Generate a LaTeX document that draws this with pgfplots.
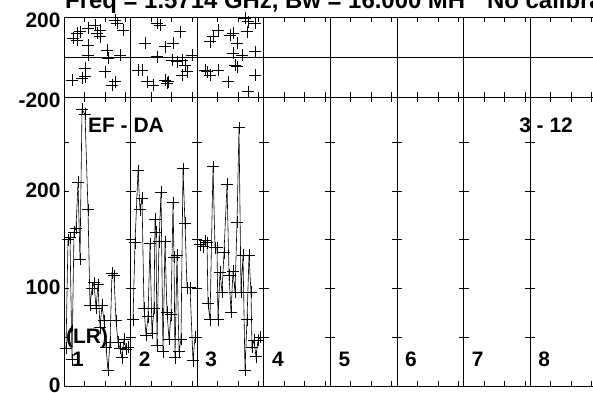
\documentclass[border=0pt]{standalone}
\usepackage{fontspec}
\setmainfont{Liberation Sans}
\usepackage{pgfplots}
\pgfplotsset{compat=1.18}
\newcommand{\lbl}{\fontsize{21}{21}\selectfont\bfseries}
\begin{document}
\begin{tikzpicture}[x=1bp,y=1bp]
\useasboundingbox (0,0) rectangle (593,392);
\pgfplotsset{
  panelbase/.style={
    scale only axis, width=533bp,
    xmin=64, xmax=597,
    axis line style={black, line width=0.9bp},
    tick style={black, line width=0.9bp},
    major tick length=5bp,
    tick align=inside,
    xtick={84.5,105,125.5,151.1,171.6,192.1,217.7,238.2,258.7,284.3,304.8,325.3,350.9,371.4,391.9,417.5,438,458.5,484.1,504.6,525.1,550.7,571.2,591.7},
    xticklabels={},
    xtick pos=both,
    extra x ticks={130.6,197.2,263.8,330.4,397,463.6,530.2},
    extra x tick labels={},
    extra x tick style={grid=major, major grid style={black, line width=1bp}},
    ytick pos=left,
    yticklabel style={font=\lbl},
    clip=false,
  },
  amp/.style={black, line width=0.6bp, mark=+, mark size=6bp, mark options={solid, line width=0.9bp, black}},
  pha/.style={only marks, mark=+, mark size=6bp, mark options={solid, line width=0.9bp, black}},
}
% ---------------- amplitude panel ----------------
\begin{axis}[panelbase,
  at={(64bp,6bp)}, anchor=south west, height=289bp,
  ymin=0, ymax=296.7,
  ytick={0,50,100,150,200,250},
  yticklabels={0,,100,,200,},
  yticklabel style={yshift=1bp},
]
\addplot[amp] coordinates {
(66,39)(68,150)(70,152)(72,27)(74,158)(76,162)(78,209)(80,130)(82,284)(85,279)(88,181)(90,83)(92,100)(94,106)(96,80)(98,104)(100,60)(102,83)(104,67)(106,40)(108,16)(110,45)(112,116)(114,113)(116,67)(118,45)(120,39)(122,29)(124,48)(126,38)(128,40)
};
\addplot[amp] coordinates {
(133,68)(135,147)(138,221)(140,181)(142,193)(144,80)(146,52)(148,71)(150,146)(152,54)(154,80)(155,171)(156,158)(157,42)(159,148)(161,199)(163,35)(165,148)(167,76)(169,48)(171,73)(173,188)(174,132)(175,29)(177,134)(179,35)(181,48)(183,223)(185,167)(187,101)(190,101)(193,26)(195,50)
};
\addplot[amp] coordinates {
(200,145)(203,143)(205,149)(207,147)(208,85)(210,68)(213,225)(215,142)(217,142)(218,68)(220,117)(222,96)(224,137)(227,207)(229,114)(231,76)(233,118)(235,96)(237,168)(239,265)(241,96)(243,134)(245,16)(247,68)(249,134)(251,96)(252,40)(254,47)(256,30)(258,47)(260,50)
};
\end{axis}
% ---------------- phase panel ----------------
\begin{axis}[panelbase,
  at={(64bp,295bp)}, anchor=south west, height=80bp,
  ymin=-200, ymax=200,
  ytick={-200,200},
  yticklabels={-200,200},
  yticklabel style={yshift=-3bp},
  extra y ticks={0}, extra y tick labels={},
  extra y tick style={grid=major, major grid style={black, line width=0.9bp}},
]
\addplot[pha] coordinates {
(73,93)(77,118)(80,127)(88,143)(95,160)(97,118)(100,135)(117,168)(123,135)(115,185)(77,85)(88,60)(107,35)(108,-7)(120,10)(88,10)(85,-57)(82,-107)(72,-115)(105,-73)(115,-123)(112,-140)(85,-98)(100,102)
};
\addplot[pha] coordinates {
(160,160)(157,168)(180,127)(145,68)(165,52)(173,68)(157,2)(192,10)(182,-15)(185,-40)(177,-23)(138,-65)(142,-65)(153,-140)(147,-123)(168,-123)(165,-115)(182,-90)(187,-73)(172,-15)(167,-132)
};
\addplot[pha] coordinates {
(218,135)(213,102)(210,77)(230,110)(233,118)(247,127)(248,177)(255,168)(245,193)(237,68)(255,27)(242,10)(233,18)(205,-65)(218,-65)(210,-90)(228,-123)(237,-48)(235,-40)(255,-90)(248,-173)(207,-73)
};
\end{axis}
% ticks crossing the panel separators (amplitude panel)
\foreach \X in {130.6,197.2,263.8,330.4,397,463.6,530.2}{
  \foreach \V in {50,100,150,200,250}{
    \draw[black, line width=0.9bp] (\X-5, 6+0.974*\V) -- (\X+5, 6+0.974*\V);
  }
}
% texts
\node[anchor=base west, inner sep=0, font=\fontsize{24}{24}\selectfont\bfseries] at (65,384) {Freq = 1.5714 GHz, Bw = 16.000 MH};
\node[anchor=base west, inner sep=0, font=\fontsize{24}{24}\selectfont\bfseries] at (487,384) {No calibration};
\node[anchor=base west, inner sep=0, font=\lbl] at (88,260) {EF - DA};
\node[anchor=base east, inner sep=0, font=\lbl] at (573,260) {3 - 12};
\node[anchor=base west, inner sep=0, font=\lbl] at (66,49) {(LR)};
\foreach \S/\N in {64/1,130.6/2,197.2/3,263.8/4,330.4/5,397/6,463.6/7,530.2/8}{
  \node[anchor=base west, inner sep=0, font=\lbl] at (\S+8,26) {\N};
}
\end{tikzpicture}
\end{document}
